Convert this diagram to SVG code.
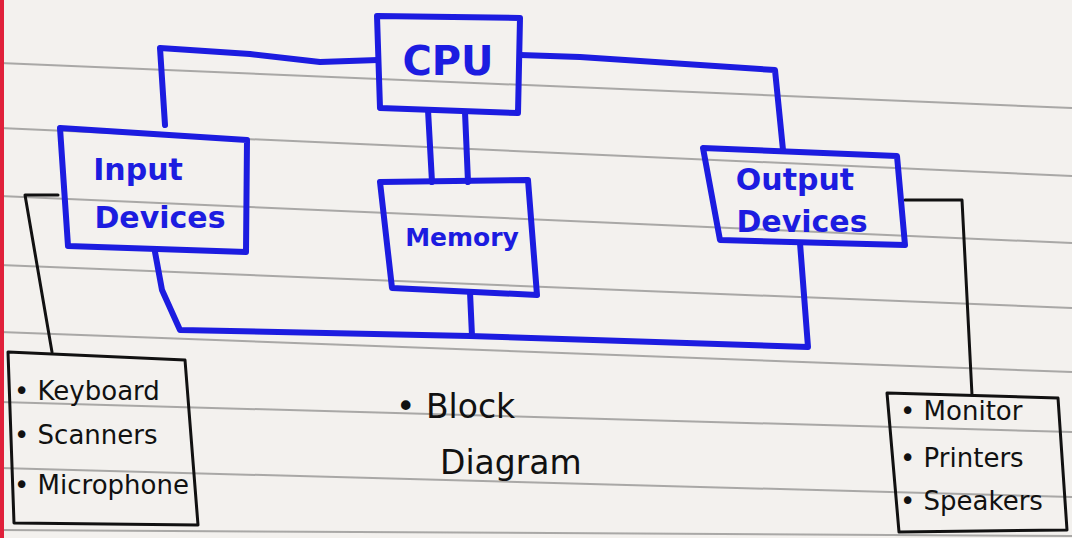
<svg xmlns="http://www.w3.org/2000/svg" width="1072" height="538" viewBox="0 0 1072 538">
<style>
.paper{fill:#f3f1ee}
.rule{stroke:#6b6b6b;stroke-width:2;opacity:0.55;fill:none}
.blue{fill:none;stroke:#1c1ce0;stroke-width:6;stroke-linejoin:round;stroke-linecap:round}
.black{fill:none;stroke:#111;stroke-width:3;stroke-linejoin:round;stroke-linecap:round}
.bt{font-family:"DejaVu Sans",sans-serif;font-weight:bold;fill:#1c1ce0;text-anchor:middle}
.kt{font-family:"DejaVu Sans",sans-serif;fill:#111;font-size:26px}
.cap{font-family:"DejaVu Sans",sans-serif;fill:#111;font-size:33px}
</style>
<rect class="paper" width="1072" height="538"/>
<g id="paper-lines">
<path class="rule" d="M0 63 L1072 108"/>
<path class="rule" d="M0 128 L1072 176"/>
<path class="rule" d="M0 196 L1072 243"/>
<path class="rule" d="M0 265 L1072 308"/>
<path class="rule" d="M0 332 L1072 372"/>
<path class="rule" d="M0 402 L1072 432"/>
<path class="rule" d="M0 468 L1072 497"/>
<path class="rule" d="M0 530 L1072 536"/>
<rect x="0" y="0" width="4" height="538" fill="#e0203a"/>
</g>
<g id="connectors">
<path class="blue" d="M378 60 L320 62 L250 54 L160 48 L165 125"/>
<path class="blue" d="M520 55 L580 57 L775 70 L783 150"/>
<path class="blue" d="M428 110 L432 182"/>
<path class="blue" d="M465 112 L468 182"/>
<path class="blue" d="M155 252 L162 290 L180 330 L470 336 L808 347 L800 243"/>
<path class="blue" d="M470 292 L472 336"/>
<path class="black" d="M58 195 L25 195 L52 352"/>
<path class="black" d="M905 200 L962 200 L972 395"/>
</g>
<g id="cpu">
<path class="blue" d="M377 16 L520 18 L518 113 L380 108 Z"/>
<text class="bt" x="448" y="75" font-size="40">CPU</text>
</g>
<g id="input-devices">
<path class="blue" d="M60 128 L247 140 L246 252 L68 246 Z"/>
<text class="bt" x="138" y="180" font-size="30">Input</text>
<text class="bt" x="160" y="228" font-size="30">Devices</text>
</g>
<g id="memory">
<path class="blue" d="M380 182 L528 180 L537 295 L392 288 Z"/>
<text class="bt" x="462" y="246" font-size="25">Memory</text>
</g>
<g id="output-devices">
<path class="blue" d="M703 148 L897 156 L905 245 L720 240 Z"/>
<text class="bt" x="795" y="190" font-size="30">Output</text>
<text class="bt" x="802" y="232" font-size="30">Devices</text>
</g>
<g id="input-list">
<path class="black" d="M8 352 L185 360 L198 525 L14 523 Z"/>
<text class="kt" x="14" y="400">• Keyboard</text>
<text class="kt" x="14" y="444">• Scanners</text>
<text class="kt" x="14" y="494">• Microphone</text>
</g>
<g id="output-list">
<path class="black" d="M887 393 L1058 398 L1067 530 L899 532 Z"/>
<text class="kt" x="900" y="420">• Monitor</text>
<text class="kt" x="900" y="467">• Printers</text>
<text class="kt" x="900" y="510">• Speakers</text>
</g>
<g id="caption">
<text class="cap" x="396" y="418">• Block</text>
<text class="cap" x="440" y="474">Diagram</text>
</g>
</svg>
